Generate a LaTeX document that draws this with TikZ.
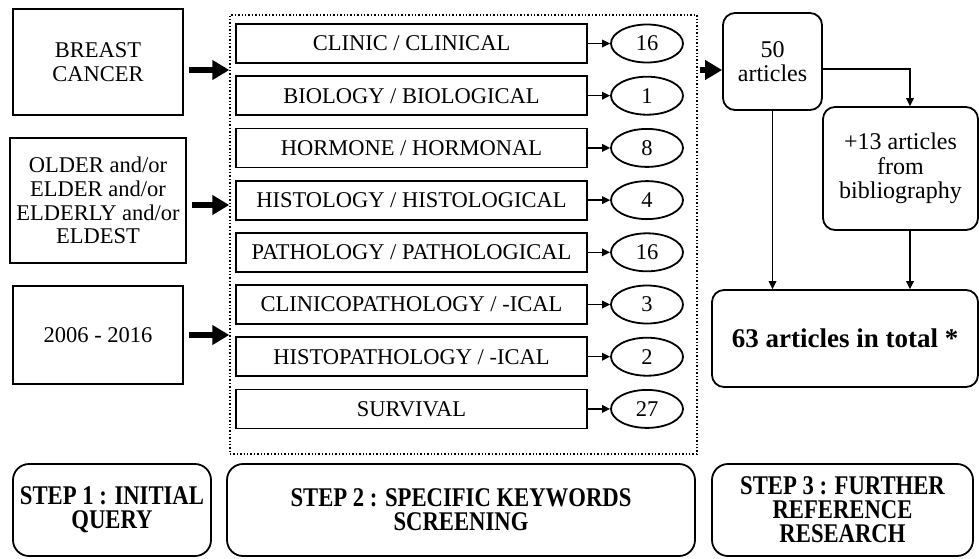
\documentclass[tikz,border=0pt]{standalone}
\usepackage{fontspec}
\setmainfont{Liberation Serif}
\newfontfamily\stepfont[FakeStretch=0.84]{Liberation Serif}
\usetikzlibrary{positioning,shapes.geometric,arrows.meta}

\begin{document}
\begin{tikzpicture}[x=0.5pt, y=-0.5pt,
    query/.style={draw, line width=0.9pt, align=center, minimum width=85pt, font=\fontsize{11.25}{11.8}\selectfont},
    keyword/.style={draw, line width=0.9pt, minimum width=175.5pt, minimum height=19.5pt, inner sep=0pt, font=\fontsize{11.25}{12}\selectfont},
    count/.style={draw, ellipse, line width=0.9pt, minimum width=36pt, minimum height=19pt, inner sep=0pt, font=\fontsize{11.25}{12}\selectfont},
    result/.style={draw, rounded corners=6pt, line width=0.9pt, align=center, font=\fontsize{12}{12.3}\selectfont},
    stepbox/.style={draw, rounded corners=8pt, line width=0.9pt, align=center, minimum height=46pt, font=\fontsize{13.5}{12}\stepfont\bfseries},
    bigarrow/.style={line width=3pt, -{Triangle[length=8.5pt,width=9.5pt]}},
    smallarrow/.style={line width=0.7pt, -{Triangle[length=4pt,width=3.8pt]}}]
    \useasboundingbox (0,0) rectangle (979,558);
    % Step 1 : initial query
    \node[query, minimum height=53pt] (breast) at (98,62) {BREAST\\CANCER};
    \node[query, minimum height=62.5pt] (older) at (98,200.5) {OLDER and/or\\ELDER and/or\\ELDERLY and/or\\ELDEST};
    \node[query, minimum height=49pt] (years) at (98,335) {2006 - 2016};
    % Step 2 : keywords
    \node[draw, densely dotted, line width=0.7pt, minimum width=233.5pt, minimum height=219.5pt] (frame) at (463.5,234.5) {};
    \foreach \kw/\num [count=\i] in {{CLINIC / CLINICAL}/16, {BIOLOGY / BIOLOGICAL}/1,
        {HORMONE / HORMONAL}/8, {HISTOLOGY / HISTOLOGICAL}/4, {PATHOLOGY / PATHOLOGICAL}/16,
        {CLINICOPATHOLOGY / -ICAL}/3, {HISTOPATHOLOGY / -ICAL}/2, {SURVIVAL}/27} {
        \node[keyword] (kw\i) at (411.5, {52.2*\i-8.7}) {\kw};
        \node[count] (n\i) at (647, {52.2*\i-8.7}) {\num};
        \draw[smallarrow] (kw\i) -- (n\i);
    }
    \coordinate (a1) at ([yshift=-4pt]breast.east);
    \coordinate (a2) at ([yshift=-2.25pt]older.east);
    \draw[bigarrow, shorten <=2.5pt] (a1) -- (a1 -| frame.west);
    \draw[bigarrow, shorten <=2.5pt] (a2) -- (a2 -| frame.west);
    \draw[bigarrow, shorten <=2.5pt] (years.east) -- (years.east -| frame.west);
    % Step 3 : further research
    \node[result, minimum width=49.5pt, minimum height=48.5pt] (fifty) at (772.5,61.5) {50\\articles};
    \node[result, minimum width=77.5pt, minimum height=61.5pt] (plus) at (900.5,168.5) {+13 articles\\from\\bibliography};
    \node[result, minimum width=133pt, minimum height=48.5pt, font=\fontsize{13.5}{14}\selectfont\bfseries] (total) at (845,338.5) {63 articles in total *};
    \coordinate (f1) at ([yshift=-4.25pt]fifty.west);
    \coordinate (p1) at ([xshift=4.75pt]plus.south);
    \draw[bigarrow, shorten <=1pt] (frame.east |- f1) -- (f1);
    \draw[smallarrow] ([yshift=-3.75pt]fifty.east) -| ([xshift=4.75pt]plus.north);
    \draw[smallarrow] (fifty.south) -- (fifty.south |- total.north);
    \draw[smallarrow] (p1) -- (p1 |- total.north);
    % Step labels
    \node[stepbox, minimum width=99pt] (step1) at (112,510) {STEP 1 : INITIAL\\QUERY};
    \node[stepbox, minimum width=234pt] (step2) at (461,510) {STEP 2 : SPECIFIC KEYWORDS\\SCREENING};
    \node[stepbox, minimum width=130.5pt] (step3) at (842.5,510) {STEP 3 : FURTHER\\REFERENCE\\RESEARCH};
\end{tikzpicture}
\end{document}
